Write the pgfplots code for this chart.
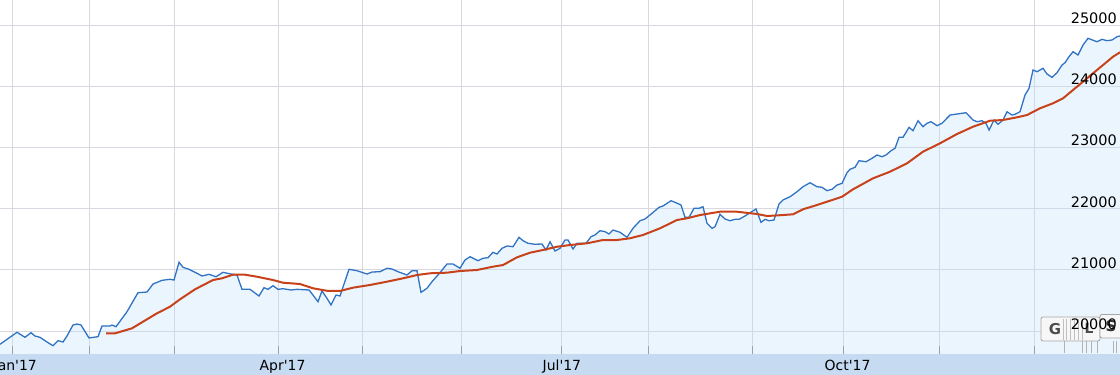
\documentclass[border=0pt]{standalone}
\usepackage{pgfplots}
\usepackage{pgfplotstable}
\pgfplotsset{compat=1.18}
\usepackage{fontspec}
\setmainfont{DejaVu Sans}
\definecolor{gridc}{RGB}{216,216,224}
\definecolor{linec}{RGB}{48,114,196}
\definecolor{areac}{RGB}{190,222,252}
\definecolor{redc}{RGB}{199,66,26}
\definecolor{bandc}{RGB}{198,219,242}
\definecolor{tickc}{RGB}{160,160,170}

\pgfplotsset{
  layers/mylayers/.define layer set={
    axis background,axis grid,axis ticks,axis lines,pre main,main,axis tick labels,axis descriptions,axis foreground
  }{
    grid style={/pgfplots/on layer=axis grid},
    tick style={/pgfplots/on layer=axis ticks},
    axis line style={/pgfplots/on layer=axis lines},
    label style={/pgfplots/on layer=axis descriptions},
    legend style={/pgfplots/on layer=axis descriptions},
    title style={/pgfplots/on layer=axis descriptions},
    colorbar style={/pgfplots/on layer=axis descriptions},
    ticklabel style={/pgfplots/on layer=axis tick labels},
  },
}

\pgfplotstableread{
x y
0 19783
17 19979
25 19897
31 19972
35 19918
40 19897
47 19820
53 19760
58 19842
63 19820
67 19918
73 20098
77 20114
81 20098
89 19886
98 19907
102 20082
110 20082
112 20098
116 20070
127 20315
138 20626
147 20637
153 20768
162 20828
170 20845
174 20833
179 21123
183 21041
189 21008
197 20943
202 20899
209 20926
216 20887
223 20959
231 20931
237 20915
242 20681
250 20681
259 20572
264 20708
268 20681
273 20740
278 20681
283 20691
291 20670
297 20681
309 20670
313 20588
318 20479
322 20654
327 20534
331 20425
336 20588
340 20572
349 21008
357 20985
367 20931
372 20964
380 20969
387 21025
392 21013
398 20969
407 20915
412 20985
417 20985
421 20632
427 20698
432 20806
440 20953
447 21095
453 21095
460 21025
465 21160
470 21214
478 21149
483 21188
488 21198
493 21286
497 21258
502 21351
507 21389
513 21377
519 21531
523 21476
528 21433
535 21417
542 21422
546 21324
550 21459
555 21307
560 21351
565 21487
568 21487
573 21340
577 21433
586 21433
591 21541
595 21569
600 21639
605 21623
609 21585
613 21650
620 21613
627 21531
633 21678
640 21802
645 21830
652 21923
659 22021
663 22043
671 22129
676 22096
681 22059
685 21858
689 21858
694 22005
699 22005
703 22031
707 21760
712 21678
715 21704
720 21907
725 21830
730 21802
735 21825
739 21825
745 21879
750 21933
756 21993
761 21776
765 21825
769 21802
774 21814
779 22075
783 22141
790 22194
797 22276
803 22358
810 22423
817 22358
822 22348
827 22293
832 22315
837 22386
842 22413
847 22587
850 22642
855 22675
859 22783
866 22766
872 22822
877 22876
882 22848
886 22876
891 22946
895 22985
899 23165
903 23165
909 23328
913 23273
918 23436
923 23338
927 23394
931 23420
937 23355
942 23394
950 23529
957 23546
966 23567
973 23448
977 23420
982 23436
986 23394
989 23284
994 23448
998 23378
1003 23448
1007 23583
1012 23529
1015 23541
1020 23583
1023 23747
1025 23856
1029 23966
1033 24265
1037 24237
1043 24293
1047 24199
1052 24145
1057 24221
1062 24346
1065 24384
1069 24482
1073 24564
1078 24510
1083 24673
1088 24783
1097 24727
1102 24766
1107 24744
1112 24755
1117 24809
1120 24820
}\closedata

\pgfplotstableread{
x y
106 19962
115 19962
132 20044
143 20152
157 20289
170 20397
180 20518
195 20681
213 20833
222 20861
233 20920
245 20920
257 20887
273 20833
283 20789
300 20768
313 20698
328 20654
340 20654
353 20708
370 20752
387 20806
403 20861
417 20915
430 20943
447 20953
460 20980
477 20997
493 21051
503 21078
517 21204
530 21279
543 21324
557 21377
570 21405
587 21433
603 21487
617 21487
630 21515
643 21569
660 21678
677 21814
687 21842
700 21895
720 21949
737 21949
757 21912
767 21879
783 21895
793 21907
803 21989
817 22059
830 22129
842 22194
853 22315
873 22495
890 22603
907 22740
923 22930
940 23067
957 23219
973 23338
990 23436
1003 23448
1017 23492
1027 23529
1040 23639
1053 23721
1063 23802
1073 23938
1083 24074
1093 24211
1103 24346
1113 24482
1120 24554
}\madata

\begin{document}
\begin{tikzpicture}
\begin{axis}[
  set layers=mylayers,
  scale only axis, width=1120bp, height=375bp,
  xmin=0, xmax=1120, ymin=19281, ymax=25409,
  axis line style={draw=none},
  tick style={draw=none},
  xtick={12,89,174,278,362,461,561,648,752,843,939,1034},
  xticklabels={Jan\textquotesingle 17,,,Apr\textquotesingle 17,,,Jul\textquotesingle 17,,,Oct\textquotesingle 17,,},
  ytick={20000,21000,22000,23000,24000,25000},
  yticklabels={20000,21000,22000,23000,24000,25000},
  yticklabel pos=right,
  grid=major,
  grid style={gridc, line width=1bp},
  xticklabel style={anchor=base west, xshift=-18.5bp, yshift=5bp, inner sep=0pt, font=\fontsize{14}{16}\selectfont},
  yticklabel style={anchor=base east, inner sep=0pt, xshift=-3bp, yshift=1.5bp, font=\fontsize{14.5}{17}\selectfont},
]
\addplot[draw=none, fill=areac, fill opacity=0.3] table {\closedata} \closedcycle;
\fill[bandc] (axis cs:-20,19000) rectangle (axis cs:1140,19624);
\pgfplotsinvokeforeach{12,89,174,278,362,461,561,648,752,843,939,1034}{
  \draw[tickc, line width=1bp] (axis cs:#1,19624) -- (axis cs:#1,19755);
}
\addplot[linec, line width=1.3bp] table {\closedata};
\addplot[redc, line width=2bp] table {\madata};
% navigator-like widget
\draw[gray!60, line width=0.8bp] (axis cs:1064,19837) -- (axis cs:1064,19641);
\draw[gray!60, line width=0.8bp] (axis cs:1082,19837) -- (axis cs:1082,19641);
\draw[gray!60, line width=0.8bp] (axis cs:1086,19837) -- (axis cs:1086,19641);
\draw[gray!60, line width=0.8bp] (axis cs:1091,19837) -- (axis cs:1091,19641);
\draw[gray!60, line width=0.8bp] (axis cs:1097,19837) -- (axis cs:1097,19641);
\draw[gray!60, line width=0.8bp] (axis cs:1113,19837) -- (axis cs:1113,19641);
\draw[gray!60, line width=0.8bp] (axis cs:1116,19837) -- (axis cs:1116,19641);
\draw[rounded corners=2bp, draw=gray!70, fill=gray!6, line width=0.8bp] (axis cs:1041,19837) rectangle (axis cs:1100,20229);
\draw[gray!50, line width=0.6bp] (axis cs:1063,19860) -- (axis cs:1063,20200);
\draw[gray!50, line width=0.6bp] (axis cs:1066,19860) -- (axis cs:1066,20200);
\draw[gray!50, line width=0.6bp] (axis cs:1070,19860) -- (axis cs:1070,20200);
\draw[gray!50, line width=0.6bp] (axis cs:1074,19860) -- (axis cs:1074,20200);
\draw[gray!50, line width=0.6bp] (axis cs:1078,19860) -- (axis cs:1078,20200);
\draw[gray!50, line width=0.6bp] (axis cs:1082,19860) -- (axis cs:1082,20200);
\node[font=\bfseries\fontsize{15}{17}\selectfont, text=black!70] at (axis cs:1055,20030) {G};
\node[font=\bfseries\fontsize{14}{16}\selectfont, text=black!70] at (axis cs:1089,20050) {L};
\draw[rounded corners=2bp, draw=gray!70, fill=gray!6, line width=0.8bp] (axis cs:1100,19886) rectangle (axis cs:1125,20270);
\node[font=\bfseries\fontsize{15}{17}\selectfont, text=black!80] at (axis cs:1111,20075) {S};
\end{axis}
\pgfresetboundingbox
\path (current axis.south west) rectangle (current axis.north east);
\end{tikzpicture}
\end{document}
